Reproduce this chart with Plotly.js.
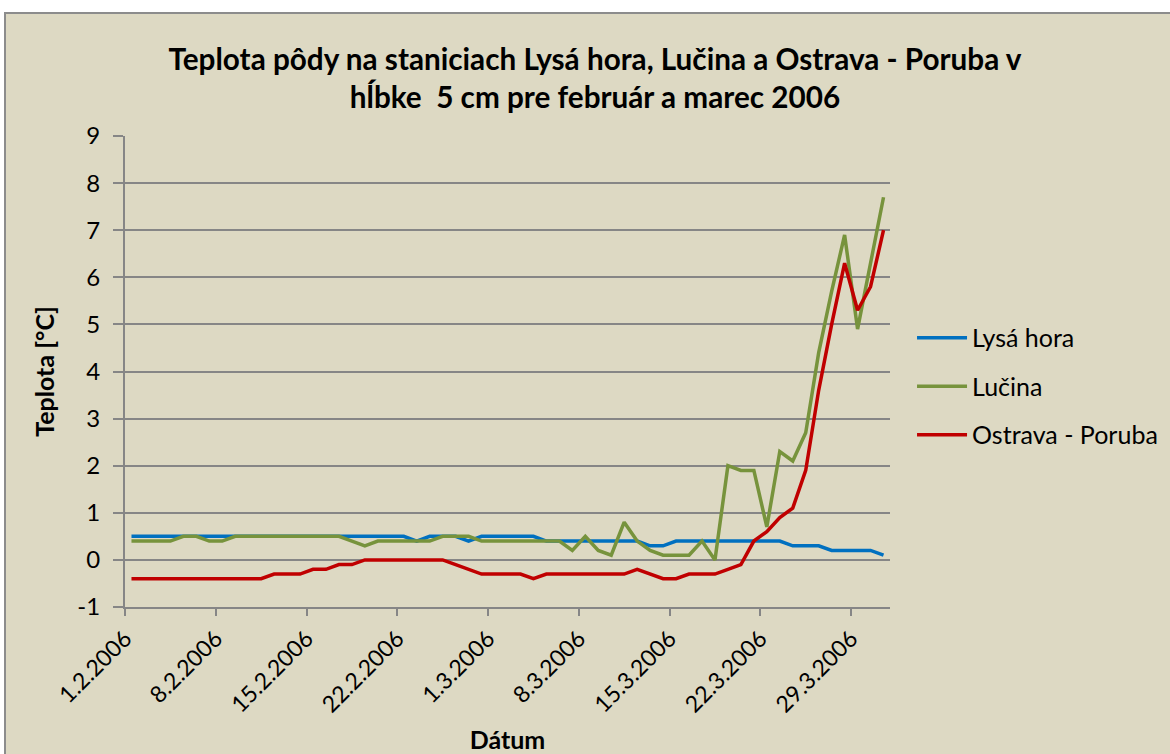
<!DOCTYPE html>
<html><head><meta charset="utf-8">
<script src="https://cdn.plot.ly/plotly-3.0.1.min.js"></script>
<style>
html,body{margin:0;padding:0;background:#fff;width:1170px;height:754px;overflow:hidden}
#wrap{position:absolute;left:4px;top:12px;width:1164px;height:740px;border-left:2px solid #8c8c8c;border-top:2px solid #8c8c8c;background:#DDD9C3}
#chart{width:1164px;height:740px}
</style></head><body>
<div id="wrap"><div id="chart"></div></div>
<script>
const dates = [
'2006-02-01','2006-02-02','2006-02-03','2006-02-04','2006-02-05','2006-02-06','2006-02-07','2006-02-08','2006-02-09','2006-02-10',
'2006-02-11','2006-02-12','2006-02-13','2006-02-14','2006-02-15','2006-02-16','2006-02-17','2006-02-18','2006-02-19','2006-02-20',
'2006-02-21','2006-02-22','2006-02-23','2006-02-24','2006-02-25','2006-02-26','2006-02-27','2006-02-28',
'2006-03-01','2006-03-02','2006-03-03','2006-03-04','2006-03-05','2006-03-06','2006-03-07','2006-03-08','2006-03-09','2006-03-10',
'2006-03-11','2006-03-12','2006-03-13','2006-03-14','2006-03-15','2006-03-16','2006-03-17','2006-03-18','2006-03-19','2006-03-20',
'2006-03-21','2006-03-22','2006-03-23','2006-03-24','2006-03-25','2006-03-26','2006-03-27','2006-03-28','2006-03-29','2006-03-30','2006-03-31'
];
const lysaHora = [
0.5,0.5,0.5,0.5,0.5,0.5,0.5,0.5,0.5,0.5,
0.5,0.5,0.5,0.5,0.5,0.5,0.5,0.5,0.5,0.5,
0.5,0.5,0.4,0.5,0.5,0.5,0.4,0.5,
0.5,0.5,0.5,0.5,0.4,0.4,0.4,0.4,0.4,0.4,
0.4,0.4,0.3,0.3,0.4,0.4,0.4,0.4,0.4,0.4,
0.4,0.4,0.4,0.3,0.3,0.3,0.2,0.2,0.2,0.2,0.1
];
const lucina = [
0.4,0.4,0.4,0.4,0.5,0.5,0.4,0.4,0.5,0.5,
0.5,0.5,0.5,0.5,0.5,0.5,0.5,0.4,0.3,0.4,
0.4,0.4,0.4,0.4,0.5,0.5,0.5,0.4,
0.4,0.4,0.4,0.4,0.4,0.4,0.2,0.5,0.2,0.1,
0.8,0.4,0.2,0.1,0.1,0.1,0.4,0.0,2.0,1.9,
1.9,0.7,2.3,2.1,2.7,4.4,5.7,6.9,4.9,6.3,7.7
];
const ostravaPoruba = [
-0.4,-0.4,-0.4,-0.4,-0.4,-0.4,-0.4,-0.4,-0.4,-0.4,
-0.4,-0.3,-0.3,-0.3,-0.2,-0.2,-0.1,-0.1,0.0,0.0,
0.0,0.0,0.0,0.0,0.0,-0.1,-0.2,-0.3,
-0.3,-0.3,-0.3,-0.4,-0.3,-0.3,-0.3,-0.3,-0.3,-0.3,
-0.3,-0.2,-0.3,-0.4,-0.4,-0.3,-0.3,-0.3,-0.2,-0.1,
0.4,0.6,0.9,1.1,1.9,3.6,5.0,6.3,5.3,5.8,7.0
];
const tickDates = ['2006-02-01','2006-02-08','2006-02-15','2006-02-22','2006-03-01','2006-03-08','2006-03-15','2006-03-22','2006-03-29'];
const tickLabels = ['1.2.2006','8.2.2006','15.2.2006','22.2.2006','1.3.2006','8.3.2006','15.3.2006','22.3.2006','29.3.2006'];
const yTickValues = [-1,0,1,2,3,4,5,6,7,8,9];
const yTickLabels = ['-1','0','1','2','3','4','5','6','7','8','9'];
const seriesNames = ['Lysá hora','Lučina','Ostrava - Poruba'];
const seriesColors = ['#0070C0','#77933C','#C00000'];
const titleLine1 = 'Teplota pôdy na staniciach Lysá hora, Lučina a Ostrava - Poruba v';
const titleLine2 = 'hĺbke  5 cm pre február a marec 2006';

const FONT = 'Lato, "Open Sans", sans-serif';
const xs = dates.map(d => d + ' 12:00');
const allSeries = [lysaHora, lucina, ostravaPoruba];
const traces = allSeries.map((vals, i) => ({
  type: 'scatter', mode: 'lines', x: xs, y: vals, name: seriesNames[i],
  legendgroup: 'g' + i,
  line: {color: seriesColors[i], width: 3.5},
  hoverinfo: 'x+y+name'
}));

const layout = {
  width: 1164, height: 740,
  margin: {l: 119, r: 280, t: 122, b: 147, autoexpand: false},
  paper_bgcolor: '#DDD9C3', plot_bgcolor: '#DDD9C3',
  font: {family: FONT, color: '#000', size: 23},
  title: {
    text: '<b>' + titleLine1 + '<br>' + titleLine2 + '</b>',
    font: {family: FONT, size: 29.7, color: '#000'},
    xref: 'container', yref: 'container', x: 0.506, xanchor: 'center', y: 0.925, yanchor: 'middle'
  },
  xaxis: {
    type: 'date', range: ['2006-02-01', '2006-04-01'],
    tickmode: 'array', tickvals: tickDates, ticktext: tickLabels, tickangle: -45,
    ticks: 'outside', ticklen: 7, tickwidth: 2, tickcolor: '#868686',
    showgrid: false, zeroline: false, showline: true, linecolor: '#868686', linewidth: 2,
    tickfont: {family: FONT, size: 23, color: '#000'},
    title: {text: '<b>Dátum</b>', font: {family: FONT, size: 25, color: '#000'}, standoff: 20}
  },
  yaxis: {
    range: [-1, 9], tickmode: 'array', tickvals: yTickValues, ticktext: yTickLabels,
    ticks: 'outside', ticklen: 10, tickwidth: 2, tickcolor: '#868686', ticklabelstandoff: 8,
    showgrid: true, gridcolor: '#868686', gridwidth: 2, zeroline: false,
    showline: true, linecolor: '#868686', linewidth: 2,
    tickfont: {family: FONT, size: 24, color: '#000'},
    title: {text: '<b>Teplota [°C]</b>', font: {family: FONT, size: 25, color: '#000'}, standoff: 16}
  },
  legend: {
    x: 1.0288, y: 0.62, xanchor: 'left', yanchor: 'top',
    bgcolor: 'rgba(0,0,0,0)', font: {family: FONT, size: 25, color: '#000'},
    tracegroupgap: 13, itemwidth: 50, traceorder: 'grouped'
  },
  showlegend: true
};
Plotly.newPlot('chart', traces, layout, {displayModeBar: false});
</script>
</body></html>
